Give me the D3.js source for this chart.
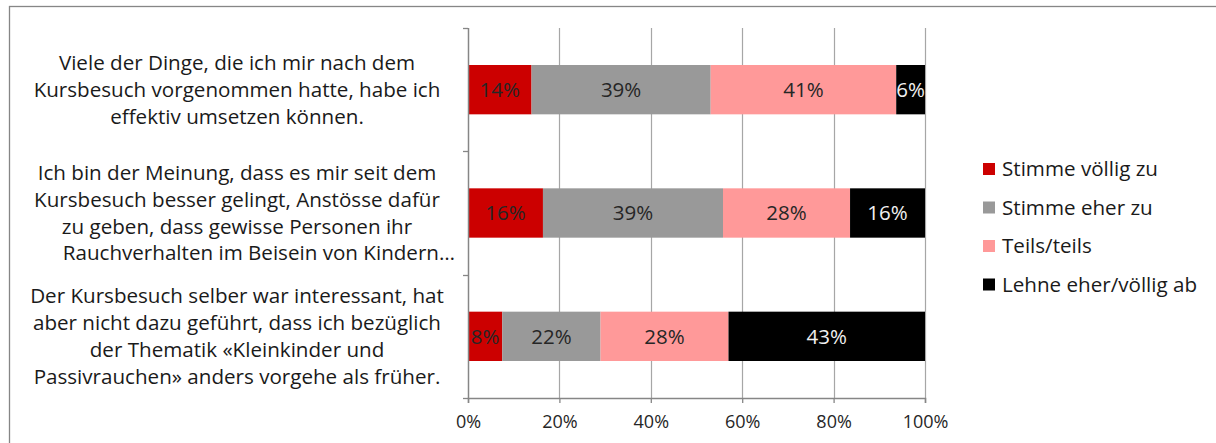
<!DOCTYPE html>
<html>
<head>
<meta charset="utf-8">
<script src="https://cdn.jsdelivr.net/npm/d3@7"></script>
<style>
  body { margin: 0; background: #fff; }
  svg { display: block; font-family: 'Open Sans', 'Noto Sans', sans-serif; }
</style>
</head>
<body>
<div id="chart"></div>
<script>
// statements (top to bottom), each broken into the lines shown
var statements = [
  ['Viele der Dinge, die ich mir nach dem', 'Kursbesuch vorgenommen hatte, habe ich', 'effektiv umsetzen können.'],
  ['Ich bin der Meinung, dass es mir seit dem', 'Kursbesuch besser gelingt, Anstösse dafür', 'zu geben, dass gewisse Personen ihr', 'Rauchverhalten im Beisein von Kindern…'],
  ['Der Kursbesuch selber war interessant, hat', 'aber nicht dazu geführt, dass ich bezüglich', 'der Thematik «Kleinkinder und', 'Passivrauchen» anders vorgehe als früher.']
]
var answers = ['Stimme völlig zu', 'Stimme eher zu', 'Teils/teils', 'Lehne eher/völlig ab']
var colors = ['#cc0000', '#999999', '#ff9999', '#000000']
var labelColors = ['#262626', '#262626', '#262626', '#f0f0f0']

// share of answers per statement, in %
var voelligZu = [13.9, 16.4, 7.5]
var eherZu = [39.2, 39.4, 21.5]
var teils = [40.6, 27.8, 28.0]
var lehneAb = [6.3, 16.4, 43.0]

var xTicks = [0, 20, 40, 60, 80, 100]

var width = 1216
var height = 443
var margin = {top: 28, right: 291, bottom: 45, left: 468}
var innerW = width - margin.left - margin.right
var innerH = height - margin.top - margin.bottom
var font = "'Open Sans', 'Noto Sans', sans-serif"

var svg = d3.select('#chart').append('svg')
  .attr('width', width)
  .attr('height', height)

// chart frame (right and bottom edges fall outside the picture)
svg.append('rect')
  .attr('x', 9.5).attr('y', 6.5)
  .attr('width', 1230).attr('height', 460)
  .attr('fill', 'none')
  .attr('stroke', '#868686')
  .attr('stroke-width', 1.3)

var g = svg.append('g')
  .attr('transform', 'translate(' + margin.left + ',' + margin.top + ')')

var x = d3.scaleLinear().domain([0, 100]).range([0, innerW])
var y = d3.scaleBand()
  .domain(d3.range(statements.length))
  .range([0, innerH])
  .paddingInner(0.6)
  .paddingOuter(0.3)

// vertical gridlines
g.selectAll('.grid')
  .data(xTicks.slice(1))
  .enter().append('line')
  .attr('class', 'grid')
  .attr('x1', d => Math.round(x(d)) + 0.5)
  .attr('x2', d => Math.round(x(d)) + 0.5)
  .attr('y1', 0)
  .attr('y2', innerH)
  .attr('stroke', '#a6a6a6')
  .attr('stroke-width', 1.2)

// stacked segments
var series = [voelligZu, eherZu, teils, lehneAb]
var segments = []
statements.forEach((s, i) => {
  var start = 0
  series.forEach((vals, k) => {
    segments.push({row: i, k: k, x0: start, x1: start + vals[i], v: vals[i]})
    start += vals[i]
  })
})

svg.append('clipPath').attr('id', 'plotclip')
  .append('rect').attr('width', innerW).attr('height', innerH)

var bars = g.append('g').attr('clip-path', 'url(#plotclip)')

bars.selectAll('.seg')
  .data(segments)
  .enter().append('rect')
  .attr('class', 'seg')
  .attr('x', d => x(d.x0))
  .attr('width', d => x(d.x1) - x(d.x0))
  .attr('y', d => y(d.row))
  .attr('height', y.bandwidth())
  .attr('fill', d => colors[d.k])

bars.selectAll('.seg-label')
  .data(segments)
  .enter().append('text')
  .attr('class', 'seg-label')
  .attr('x', d => x((d.x0 + d.x1) / 2))
  .attr('y', d => y(d.row) + y.bandwidth() / 2)
  .attr('dy', '0.36em')
  .attr('text-anchor', 'middle')
  .attr('font-size', 20.5)
  .attr('fill', d => labelColors[d.k])
  .text(d => Math.round(d.v) + '%')

// x axis
var xAxis = g.append('g')
  .attr('transform', 'translate(0,' + innerH + ')')
  .call(d3.axisBottom(x).tickValues(xTicks).tickFormat(d => d + '%').tickSizeOuter(0).tickSize(5))
xAxis.select('.domain').attr('stroke', '#868686').attr('stroke-width', 1.5)
xAxis.selectAll('.tick line').attr('stroke', '#868686').attr('stroke-width', 1.3)
xAxis.selectAll('.tick text')
  .attr('font-size', 18)
  .attr('font-family', font)
  .attr('fill', '#262626')
  .attr('y', 13)
  .attr('dy', '0.95em')

// y axis: line with ticks between categories
g.append('line')
  .attr('x1', 0.5).attr('x2', 0.5)
  .attr('y1', 0).attr('y2', innerH)
  .attr('stroke', '#868686').attr('stroke-width', 1.5)
g.selectAll('.ytick')
  .data(d3.range(statements.length + 1))
  .enter().append('line')
  .attr('x1', -5).attr('x2', 0)
  .attr('y1', d => Math.round(d * y.step()) + 0.5)
  .attr('y2', d => Math.round(d * y.step()) + 0.5)
  .attr('stroke', '#868686').attr('stroke-width', 1.3)

// category labels
var lineH = 26.8
var catG = svg.append('g')
statements.forEach((lines, i) => {
  var cy = margin.top + y(i) + y.bandwidth() / 2
  var top = cy - (lines.length - 1) * lineH / 2
  catG.selectAll('.cat' + i)
    .data(lines)
    .enter().append('text')
    .attr('x', d => d.endsWith('…') ? 455 : 237)
    .attr('text-anchor', d => d.endsWith('…') ? 'end' : 'middle')
    .attr('y', (d, j) => top + j * lineH)
    .attr('dy', '0.35em')
    .attr('font-size', 20.6)
    .attr('fill', '#1a1a1a')
    .text(d => d)
})

// legend
var legend = svg.append('g')
  .attr('transform', 'translate(983,169)')
var items = legend.selectAll('.item')
  .data(answers)
  .enter().append('g')
  .attr('transform', (d, i) => 'translate(0,' + i * 38.5 + ')')
items.append('rect')
  .attr('x', 0).attr('y', -6)
  .attr('width', 12).attr('height', 12)
  .attr('fill', (d, i) => colors[i])
items.append('text')
  .attr('x', 19)
  .attr('dy', '0.35em')
  .attr('font-size', 20.6)
  .attr('fill', '#1a1a1a')
  .text(d => d)
</script>
</body>
</html>
